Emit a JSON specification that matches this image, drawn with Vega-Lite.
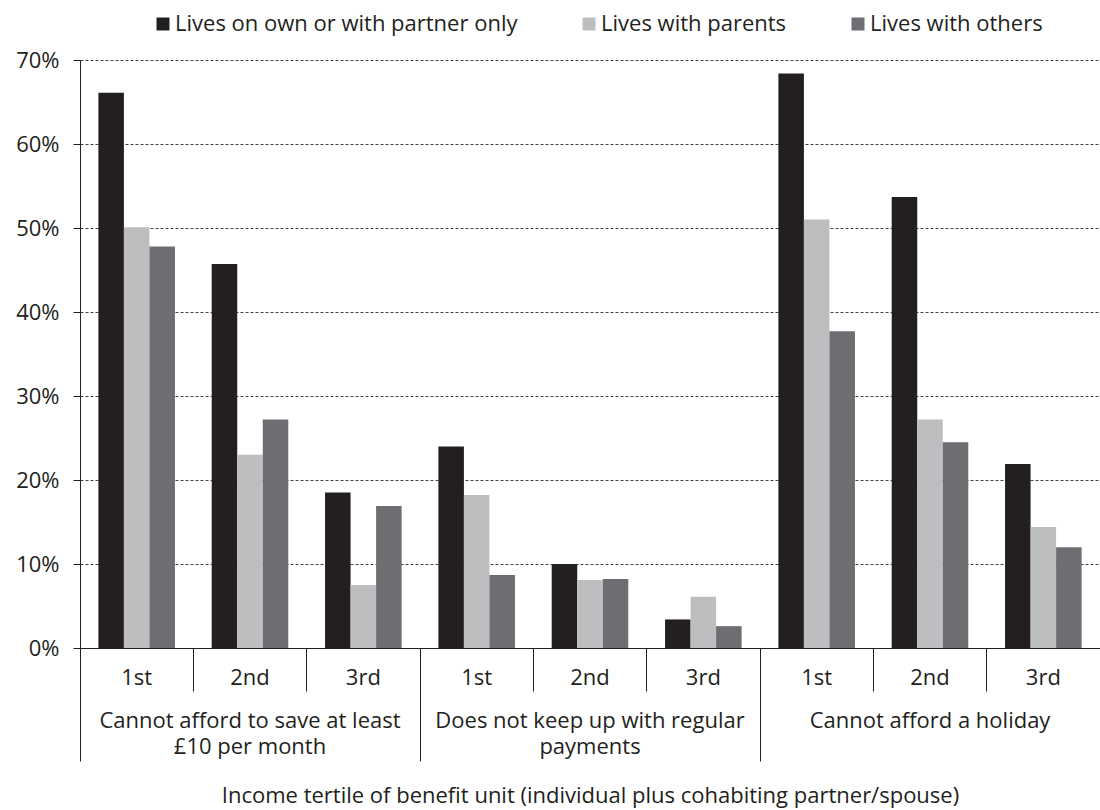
{
  "$schema": "https://vega.github.io/schema/vega-lite/v6.json",
  "width": 1020,
  "height": 588,
  "autosize": {"type": "none"},
  "padding": {"left": 80, "top": 60, "right": 0, "bottom": 162},
  "config": {"view": {"stroke": null}, "font": "Open Sans"},
  "data": {"values": [
    {"group": "Cannot afford to save at least £10 per month", "cell": "A 1st", "series": "Lives on own or with partner only", "value": 66.1},
    {"group": "Cannot afford to save at least £10 per month", "cell": "A 1st", "series": "Lives with parents", "value": 50.1},
    {"group": "Cannot afford to save at least £10 per month", "cell": "A 1st", "series": "Lives with others", "value": 47.8},
    {"group": "Cannot afford to save at least £10 per month", "cell": "A 2nd", "series": "Lives on own or with partner only", "value": 45.7},
    {"group": "Cannot afford to save at least £10 per month", "cell": "A 2nd", "series": "Lives with parents", "value": 23.0},
    {"group": "Cannot afford to save at least £10 per month", "cell": "A 2nd", "series": "Lives with others", "value": 27.2},
    {"group": "Cannot afford to save at least £10 per month", "cell": "A 3rd", "series": "Lives on own or with partner only", "value": 18.5},
    {"group": "Cannot afford to save at least £10 per month", "cell": "A 3rd", "series": "Lives with parents", "value": 7.5},
    {"group": "Cannot afford to save at least £10 per month", "cell": "A 3rd", "series": "Lives with others", "value": 16.9},
    {"group": "Does not keep up with regular payments", "cell": "B 1st", "series": "Lives on own or with partner only", "value": 24.0},
    {"group": "Does not keep up with regular payments", "cell": "B 1st", "series": "Lives with parents", "value": 18.2},
    {"group": "Does not keep up with regular payments", "cell": "B 1st", "series": "Lives with others", "value": 8.7},
    {"group": "Does not keep up with regular payments", "cell": "B 2nd", "series": "Lives on own or with partner only", "value": 10.0},
    {"group": "Does not keep up with regular payments", "cell": "B 2nd", "series": "Lives with parents", "value": 8.1},
    {"group": "Does not keep up with regular payments", "cell": "B 2nd", "series": "Lives with others", "value": 8.2},
    {"group": "Does not keep up with regular payments", "cell": "B 3rd", "series": "Lives on own or with partner only", "value": 3.4},
    {"group": "Does not keep up with regular payments", "cell": "B 3rd", "series": "Lives with parents", "value": 6.1},
    {"group": "Does not keep up with regular payments", "cell": "B 3rd", "series": "Lives with others", "value": 2.6},
    {"group": "Cannot afford a holiday", "cell": "C 1st", "series": "Lives on own or with partner only", "value": 68.4},
    {"group": "Cannot afford a holiday", "cell": "C 1st", "series": "Lives with parents", "value": 51.0},
    {"group": "Cannot afford a holiday", "cell": "C 1st", "series": "Lives with others", "value": 37.7},
    {"group": "Cannot afford a holiday", "cell": "C 2nd", "series": "Lives on own or with partner only", "value": 53.7},
    {"group": "Cannot afford a holiday", "cell": "C 2nd", "series": "Lives with parents", "value": 27.2},
    {"group": "Cannot afford a holiday", "cell": "C 2nd", "series": "Lives with others", "value": 24.5},
    {"group": "Cannot afford a holiday", "cell": "C 3rd", "series": "Lives on own or with partner only", "value": 21.9},
    {"group": "Cannot afford a holiday", "cell": "C 3rd", "series": "Lives with parents", "value": 14.4},
    {"group": "Cannot afford a holiday", "cell": "C 3rd", "series": "Lives with others", "value": 12.0}
  ]},
  "encoding": {
    "y": {
      "field": "value", "type": "quantitative",
      "scale": {"domain": [0, 70], "nice": false},
      "axis": {
        "title": null,
        "values": [0, 10, 20, 30, 40, 50, 60, 70],
        "labelExpr": "datum.value + '%'",
        "tickSize": 7, "labelPadding": 14,
        "labelFontSize": 22, "labelColor": "#231f20",
        "grid": true, "gridDash": [3, 2], "gridColor": "#444444", "gridWidth": 1,
        "domainColor": "#231f20", "tickColor": "#231f20"
      }
    }
  },
  "layer": [
    {
      "mark": {"type": "bar"},
      "encoding": {
        "x": {
          "field": "cell", "type": "nominal", "sort": null,
          "scale": {"paddingInner": 0, "paddingOuter": 0},
          "axis": {
            "title": null, "orient": "bottom",
            "ticks": false,
            "labelExpr": "slice(datum.value, 2)",
            "labelAngle": 0, "labelFontSize": 22, "labelColor": "#231f20",
            "labelBaseline": "alphabetic", "labelPadding": 36, "labelOverlap": false,
            "domainColor": "#231f20"
          }
        },
        "xOffset": {"field": "series", "type": "nominal", "sort": null, "scale": {"paddingInner": 0, "paddingOuter": 0.72}},
        "color": {
          "field": "series", "type": "nominal", "sort": null,
          "scale": {"domain": ["Lives on own or with partner only", "Lives with parents", "Lives with others"], "range": ["#231f20", "#bcbec0", "#6d6e71"]},
          "legend": {
            "title": null, "orient": "none", "legendX": 72, "legendY": -47,
            "direction": "horizontal",
            "symbolType": "square", "symbolSize": 169, "symbolStrokeWidth": 0,
            "labelFontSize": 22, "labelColor": "#231f20",
            "labelOffset": 1, "columnPadding": 60, "labelLimit": 0
          }
        }
      }
    },
    {
      "mark": {"type": "bar", "opacity": 0},
      "encoding": {
        "x": {
          "field": "cell", "type": "nominal", "sort": null,
          "axis": {
            "title": null, "orient": "bottom",
            "bandPosition": 0, "tickSize": 43, "tickColor": "#231f20",
            "labels": false, "domain": false
          }
        }
      }
    },
    {
      "mark": {"type": "bar", "opacity": 0},
      "encoding": {
        "x": {
          "field": "cell", "type": "nominal", "sort": null,
          "axis": {
            "orient": "bottom",
            "values": ["A 1st", "B 1st", "C 1st"],
            "bandPosition": 0, "tickSize": 113, "tickColor": "#231f20",
            "labels": false, "domain": false,
            "title": "Income tertile of benefit unit (individual plus cohabiting partner/spouse)",
            "titleFontSize": 22, "titleFontWeight": "normal", "titleColor": "#231f20",
            "titlePadding": 24
          }
        }
      }
    },
    {
      "mark": {"type": "bar", "opacity": 0},
      "encoding": {
        "x": {
          "field": "cell", "type": "nominal", "sort": null,
          "axis": {
            "title": null, "orient": "bottom",
            "values": ["A 2nd", "B 2nd", "C 2nd"],
            "ticks": false, "domain": false,
            "labelExpr": "datum.value == 'A 2nd' ? ['Cannot afford to save at least', '£10 per month'] : datum.value == 'B 2nd' ? ['Does not keep up with regular', 'payments'] : 'Cannot afford a holiday'",
            "labelAngle": 0, "labelFontSize": 22, "labelColor": "#231f20",
            "labelBaseline": "alphabetic", "labelLineHeight": 26, "labelPadding": 79,
            "labelLimit": 0, "labelOverlap": false
          }
        }
      }
    }
  ],
  "resolve": {"axis": {"x": "independent"}}
}
